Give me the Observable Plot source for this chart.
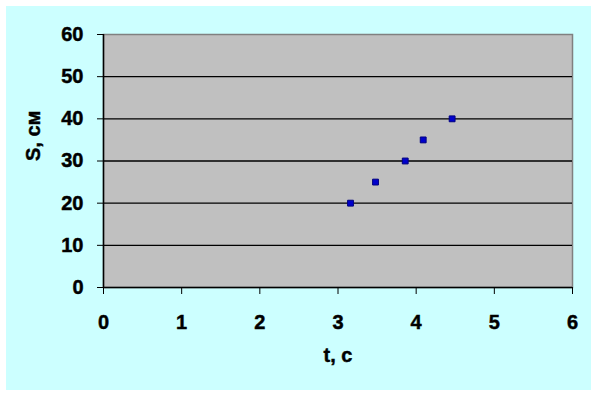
<!DOCTYPE html>
<html>
<head>
<meta charset="utf-8">
<script src="https://cdn.jsdelivr.net/npm/d3@7"></script>
<script src="https://cdn.jsdelivr.net/npm/@observablehq/plot@0.6"></script>
<style>
  html, body { margin: 0; padding: 0; background: #ffffff; }
  #wrap { position: relative; width: 598px; height: 396px; overflow: hidden; }
  #bg { position: absolute; left: 6px; top: 6px; width: 585px; height: 384px; background: #ccffff; }
  #chart { position: absolute; left: 0; top: 0; }
  #chart svg { background: transparent; }
  #chart svg text { font-family: "Liberation Sans", Arial, sans-serif !important; font-size: 20px !important; font-weight: bold !important; stroke: #000; stroke-width: 0.45px; }
</style>
</head>
<body>
<div id="wrap"><div id="bg"></div><div id="chart"></div></div>
<script>
const tValues = [3.16, 3.48, 3.86, 4.09, 4.46];
const sValues = [20, 25, 30, 35, 40];
const xTicks = [0, 1, 2, 3, 4, 5, 6];
const yTicks = [0, 10, 20, 30, 40, 50, 60];
const xLabel = "t, c";
const yLabel = "S, см";

const data = tValues.map((t, i) => ({t, s: sValues[i]}));
const font = "'Liberation Sans', Arial, sans-serif";

const chart = Plot.plot({
  width: 598,
  height: 396,
  marginLeft: 103,
  marginRight: 26,
  marginTop: 34,
  marginBottom: 109,
  style: {fontFamily: font, fontSize: "20px", fontWeight: "bold", background: "transparent", color: "#000"},
  x: {domain: [0, 6], ticks: xTicks},
  y: {domain: [0, 60], ticks: yTicks},
  marks: [
    Plot.frame({fill: "#c0c0c0", stroke: "#808080", strokeWidth: 1.5}),
    Plot.ruleY(yTicks.filter(d => d > 0 && d < 60), {stroke: "#000", strokeWidth: 1.3}),
    Plot.ruleY([0], {stroke: "#000", strokeWidth: 1.5}),
    Plot.ruleX([0], {stroke: "#000", strokeWidth: 1.5}),
    Plot.axisY({ticks: yTicks, tickFormat: d3.format("d"), tickSize: 6, tickPadding: 14, label: null, stroke: "#000"}),
    Plot.axisX({ticks: xTicks, tickFormat: d3.format("d"), tickSize: 7, tickPadding: 20, label: null, stroke: "#000"}),
    Plot.text([yLabel], {frameAnchor: "left", dx: -70, rotate: -90, text: d => d}),
    Plot.text([xLabel], {frameAnchor: "bottom", dy: 74, text: d => d}),
    Plot.dot(data, {x: "t", y: "s", symbol: "square", r: 3.3, fill: "#0000cc", stroke: "#000080", strokeWidth: 1})
  ]
});
document.getElementById("chart").appendChild(chart);
</script>
</body>
</html>
